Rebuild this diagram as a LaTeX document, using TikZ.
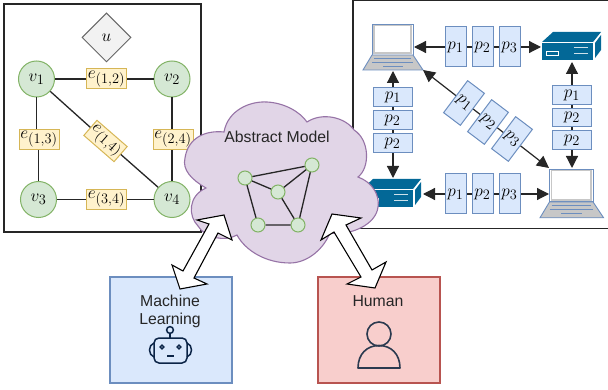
\documentclass[tikz,border=0pt]{standalone}
\usepackage{fontspec}
\setmainfont{Liberation Sans}
\usetikzlibrary{arrows.meta,shapes.geometric,calc}
\definecolor{gfill}{HTML}{D5E8D4}\definecolor{gline}{HTML}{82B366}
\definecolor{yfill}{HTML}{FFF2CC}\definecolor{yline}{HTML}{D6B656}
\definecolor{bfill}{HTML}{DAE8FC}\definecolor{bline}{HTML}{6C8EBF}
\definecolor{rfill}{HTML}{F8CECC}\definecolor{rline}{HTML}{B85450}
\definecolor{pfill}{HTML}{E1D5E7}\definecolor{pline}{HTML}{9673A6}
\definecolor{srv}{HTML}{036897}\definecolor{navy}{HTML}{0B2447}\definecolor{slatec}{HTML}{2B3A4F}
\tikzset{
 x=1pt,y=-1pt,
 panel/.style={draw=black!85,line width=1.3pt},
 vert/.style={circle,draw=gline,fill=gfill,line width=1pt,minimum size=36pt,inner sep=0pt,font=\fontsize{19}{19}\selectfont},
 ebox/.style={draw=yline,fill=yfill,line width=1pt,minimum width=40pt,minimum height=20pt,inner sep=0pt,font=\fontsize{19}{19}\selectfont},
 pbox/.style={draw=bline,fill=bfill,line width=1pt,inner sep=0pt,font=\fontsize{19}{19}\selectfont},
 ptall/.style={pbox,minimum width=21pt,minimum height=40pt},
 pwide/.style={pbox,minimum width=39pt,minimum height=18.5pt},
 edge/.style={draw=black!85,line width=1.3pt},
 link/.style={draw=black!85,line width=1.2pt,{Triangle[length=12pt,width=12pt]}-{Triangle[length=12pt,width=12pt]}},
 mini/.style={circle,draw=gline,fill=gfill,line width=1pt,minimum size=14pt,inner sep=0pt},
 block/.style={draw=black,fill=white,line width=1.1pt,line join=miter},
 tbox/.style={line width=1.1pt,minimum width=122pt,minimum height=106pt,inner sep=0pt},
 lbl/.style={font=\fontsize{15.8}{15.8}\selectfont,text=black!85},
}
\newcommand{\laptop}[3]{%
 \begin{scope}[shift={(#1,#2)},scale=#3]
  \fill[draw=bline,fill=white,line width=.9pt] (9,0) rectangle (50,31);
  \draw[black!22,line width=1.6pt] (11,1.5) -- (48,1.5) -- (48,29) -- (11,29) -- cycle;
  \draw[draw=bline,fill=black!22,line width=.9pt] (9,31) -- (50,31) -- (60,46) -- (0,46) -- cycle;
  \draw[bline,line width=.9pt] (11,34.5)--(48,34.5) (9,38)--(50,38) (20,42)--(40,42);
 \end{scope}}
\newcommand{\srvbox}[2]{%
 \begin{scope}[shift={(#1,#2)}]
  \fill[srv] (0,10) -- (11,0) -- (59,0) -- (51,10) -- cycle;
  \fill[srv] (53,11) -- (59,3) -- (59,18) -- (53,26) -- cycle;
  \fill[srv] (0,11) rectangle (51,28);
  \draw[white,line width=.9pt] (4,19) rectangle (16,23);
  \draw[white!80!srv,line width=1pt] (32,16)--(46,16) (32,22)--(46,22);
 \end{scope}}
\begin{document}
\begin{tikzpicture}
\useasboundingbox (0,0) rectangle (608,390);
% left panel
\draw[panel] (4,4) rectangle (201,232);
\node[diamond,aspect=1,draw=black!60,fill=black!5,line width=1pt,minimum width=49pt,minimum height=49pt,inner sep=0pt,font=\fontsize{19}{19}\selectfont] (u) at (106.5,37.5) {$u$};
\node[vert] (v1) at (36.5,79) {$v_1$};
\node[vert] (v2) at (172,79) {$v_2$};
\node[vert] (v3) at (38.5,199.5) {$v_3$};
\node[vert] (v4) at (172,199.5) {$v_4$};
\node[ebox] (e12) at (106.5,79) {$e_{(1,2)}$};
\node[ebox] (e13) at (39,139.5) {$e_{(1,3)}$};
\node[ebox] (e24) at (173,139.5) {$e_{(2,4)}$};
\node[ebox] (e34) at (106.5,199.5) {$e_{(3,4)}$};
\node[ebox,rotate=-41] (e14) at (105.5,141) {$e_{(1,4)}$};
\draw[edge] (v1) -- (e12) (e12) -- (v2);
\draw[edge] (v1.south) -- (v1.south|-e13.north);
\draw[edge] (v3.north) -- (v3.north|-e13.south);
\draw[edge] (v2) -- (v2|-e24.north);
\draw[edge] (v4) -- (v4|-e24.south);
\draw[edge] (v3) -- (e34) (e34) -- (v4);
\draw[edge] (v1) -- (e14) (e14) -- (v4);
% right panel
\draw[panel] (608,0) -- (353,0) -- (353,228.5) -- (608,228.5);
\laptop{363}{24}{1}
\laptop{540}{169}{1.06}
\srvbox{542}{32}
\srvbox{362}{179}
\coordinate (lap1E) at (414,47);
\coordinate (srv1W) at (541,47);
\coordinate (lap1S) at (393,71);
\coordinate (srv2N) at (393,178);
\coordinate (srv1S) at (572,62);
\coordinate (lap2N) at (572,168);
\coordinate (srv2E) at (423,194);
\coordinate (lap2W) at (549,194);
\coordinate (lap1D) at (423,70);
\coordinate (lap2D) at (549,168);
\draw[link] (lap1E) -- (srv1W);
\draw[link] (srv2E) -- (lap2W);
\draw[link] (lap1S) -- (srv2N);
\draw[link] (srv1S) -- (lap2N);
\draw[link] (lap1D) -- (lap2D);
\foreach \n/\t/\x in {a/1/455.5,b/2/482.5,c/3/509.5}{\node[ptall] (t\n) at (\x,47) {$p_\t$};}
\foreach \n/\t/\x in {a/1/455.5,b/2/482.5,c/3/509.5}{\node[ptall] (b\n) at (\x,194) {$p_\t$};}
\node[pwide] (la) at (393,97) {$p_1$};
\node[pwide] (lb) at (392.5,120) {$p_2$};
\node[pwide] (lc) at (392.5,143) {$p_2$};
\node[pwide] (ra) at (572,95) {$p_1$};
\node[pwide] (rb) at (572,117.5) {$p_2$};
\node[pwide] (rc) at (572,140) {$p_2$};
\node[ptall,rotate=-37] (da) at (464,103) {$p_1$};
\node[ptall,rotate=-37] (db) at (488,122) {$p_2$};
\node[ptall,rotate=-37] (dc) at (512,139) {$p_3$};
% cloud
\draw[draw=pline,fill=pfill,line width=1.1pt] (206,188)
 .. controls (192,180) and (182,170) .. (185,158)
 .. controls (188,138) and (205,130) .. (224,132)
 .. controls (228,110) and (250,101) .. (267,102)
 .. controls (285,103) and (300,112) .. (307,122)
 .. controls (322,112) and (345,117) .. (354,130)
 .. controls (370,140) and (370,168) .. (358,177)
 .. controls (372,182) and (380,195) .. (378,207)
 .. controls (376,225) and (350,236) .. (330,233)
 .. controls (322,252) and (305,263) .. (290,263)
 .. controls (265,263) and (245,250) .. (237,235)
 .. controls (225,242) and (205,238) .. (198,226)
 .. controls (188,216) and (188,196) .. (206,188) -- cycle;
\node[lbl] (title) at (277,136.5) {Abstract Model};
\node[mini] (ma) at (245,178) {};
\node[mini] (mb) at (312,165) {};
\node[mini] (mc) at (278,192) {};
\node[mini] (md) at (258,225) {};
\node[mini] (me) at (298,225) {};
\draw[edge] (ma)--(mb) (ma)--(mc) (mc)--(mb) (ma)--(md) (md)--(me) (mc)--(me) (mb)--(me);
% bottom boxes
\node[tbox,draw=bline,fill=bfill] (ml) at (171,330) {};
\node[tbox,draw=rline,fill=rfill] (hu) at (379,330) {};
\node[lbl] (mlt1) at (170,301) {Machine};
\node[lbl] (mlt2) at (170,320.5) {Learning};
\node[lbl] (hut) at (378,301) {Human};
% robot
\draw[navy,line width=1.5pt,rounded corners=5pt] (154,338) rectangle (187,363);
\draw[navy,line width=1.5pt,fill=bfill] (170,330) circle (3.4);
\draw[navy,line width=1.5pt] (170,333.4)--(170,338);
\draw[navy,line width=1.5pt] (154,343) .. controls (148,345) and (148,355) .. (154,357);
\draw[navy,line width=1.5pt] (187,343) .. controls (193,345) and (193,355) .. (187,357);
\draw[navy,line width=1.3pt] (162,347) circle (1.9) (179,347) circle (1.9);
\draw[navy,line width=1.5pt] (167,356)--(174,356);
% human
\draw[slatec,line width=1.6pt] (379,334) circle (12);
\draw[slatec,line width=1.6pt,line join=round] (358,368) .. controls (358,354) and (367,345.5) .. (379,345.5) .. controls (391,345.5) and (400,354) .. (400,368) -- cycle;
% block arrows
\draw[block] (224,215) -- (232,240) -- (218,233) -- (194,278) -- (207,284) -- (180,289) -- (172,265) -- (183,271) -- (209,224) -- (197,220) -- cycle;
\draw[block] (332,214) -- (361,218) -- (346,225) -- (372,270) -- (386,262) -- (375,288) -- (347,284) -- (361,277) -- (334,232) -- (321,240) -- cycle;
\end{tikzpicture}
\end{document}
